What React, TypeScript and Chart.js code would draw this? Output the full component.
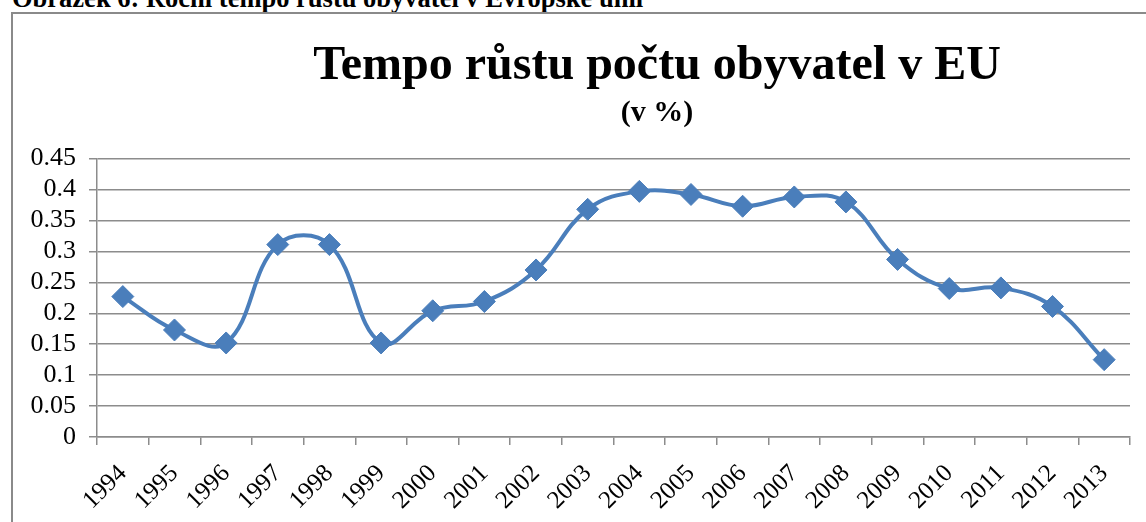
import React, { useEffect, useRef } from "react";
import { Chart, registerables } from "chart.js";

Chart.register(...registerables);

const years: string[] = [
  "1994", "1995", "1996", "1997", "1998", "1999", "2000", "2001", "2002", "2003",
  "2004", "2005", "2006", "2007", "2008", "2009", "2010", "2011", "2012", "2013",
];

const growthRate: number[] = [
  0.227, 0.173, 0.152, 0.311, 0.311, 0.152, 0.204, 0.219, 0.270, 0.368,
  0.397, 0.392, 0.373, 0.388, 0.380, 0.287, 0.240, 0.241, 0.211, 0.125,
];

const captionText = "Obrázek 6: Roční tempo růstu obyvatel v Evropské unii";
const chartTitle = "Tempo růstu počtu obyvatel v EU";
const chartSubtitle = "(v %)";

const yMin = 0;
const yMax = 0.45;
const yStep = 0.05;

const SERIF = '"Liberation Serif", "Times New Roman", serif';
const LINE_BLUE = "#4a7ebb";
const GRID_GRAY = "#8c8c8c";

export default function App() {
  const canvasRef = useRef<HTMLCanvasElement | null>(null);

  useEffect(() => {
    const canvas = canvasRef.current;
    if (!canvas) return;
    const chart = new Chart(canvas, {
      type: "line",
      data: {
        labels: years,
        datasets: [
          {
            data: growthRate,
            yAxisID: "y",
            borderColor: LINE_BLUE,
            backgroundColor: LINE_BLUE,
            borderWidth: 4,
            tension: 0.4,
            pointStyle: "rectRot",
            pointRadius: 11,
            pointBorderWidth: 1,
            pointBackgroundColor: LINE_BLUE,
            pointBorderColor: LINE_BLUE,
            fill: false,
          },
        ],
      },
      options: {
        responsive: false,
        animation: false,
        devicePixelRatio: 1,
        layout: { padding: 0 },
        plugins: {
          legend: { display: false },
          tooltip: { enabled: false },
          title: {
            display: true,
            text: chartTitle,
            color: "#000",
            font: { family: SERIF, size: 48, weight: "bold", lineHeight: 1.2 },
            padding: { top: 24, bottom: 0 },
          },
          subtitle: {
            display: true,
            text: chartSubtitle,
            color: "#000",
            font: { family: SERIF, size: 30, weight: "bold", lineHeight: 1.2 },
            padding: { top: 0, bottom: 27 },
          },
        },
        scales: {
          x: {
            type: "category",
            offset: true,
            grid: {
              display: true,
              offset: true,
              drawOnChartArea: false,
              drawTicks: true,
              tickLength: 8,
              color: GRID_GRAY,
              lineWidth: 1.5,
            },
            border: { display: true, color: GRID_GRAY, width: 1.5 },
            ticks: {
              autoSkip: false,
              minRotation: 45,
              maxRotation: 45,
              padding: 14,
              color: "#000",
              font: { family: SERIF, size: 25 },
            },
            afterFit: (scale: any) => {
              scale.height = 117;
            },
          },
          y: {
            position: "left",
            min: yMin,
            max: yMax,
            grid: {
              display: true,
              drawTicks: true,
              tickLength: 8,
              color: GRID_GRAY,
              lineWidth: 1.5,
            },
            border: { display: true, color: GRID_GRAY, width: 1.5 },
            ticks: {
              autoSkip: false,
              stepSize: yStep,
              padding: 13,
              color: "#000",
              font: { family: SERIF, size: 26 },
              callback: (v: any) => String(Math.round(Number(v) * 100) / 100),
            },
            afterFit: (scale: any) => {
              scale.width = 84;
            },
          },
          spacer: {
            type: "linear",
            position: "right",
            display: true,
            grid: { display: false, drawTicks: false },
            border: { display: false },
            ticks: { display: false },
            afterFit: (scale: any) => {
              scale.width = 171;
            },
          },
        },
      },
    });
    return () => chart.destroy();
  }, []);

  return (
    <div style={{ position: "fixed", inset: 0, overflow: "hidden", background: "#fff" }}>
      <div
        style={{
          position: "absolute",
          left: 12,
          top: -15,
          fontFamily: SERIF,
          fontWeight: "bold",
          fontSize: "26.5px",
          lineHeight: "26.5px",
          whiteSpace: "nowrap",
          color: "#000",
        }}
      >
        {captionText}
      </div>
      <div
        style={{
          position: "absolute",
          left: 11,
          top: 12,
          width: 1288,
          height: 540,
          border: "2px solid #8a8a8a",
          background: "#fff",
        }}
      >
        <canvas ref={canvasRef} width={1288} height={540} style={{ display: "block", width: 1288, height: 540 }} />
      </div>
    </div>
  );
}
